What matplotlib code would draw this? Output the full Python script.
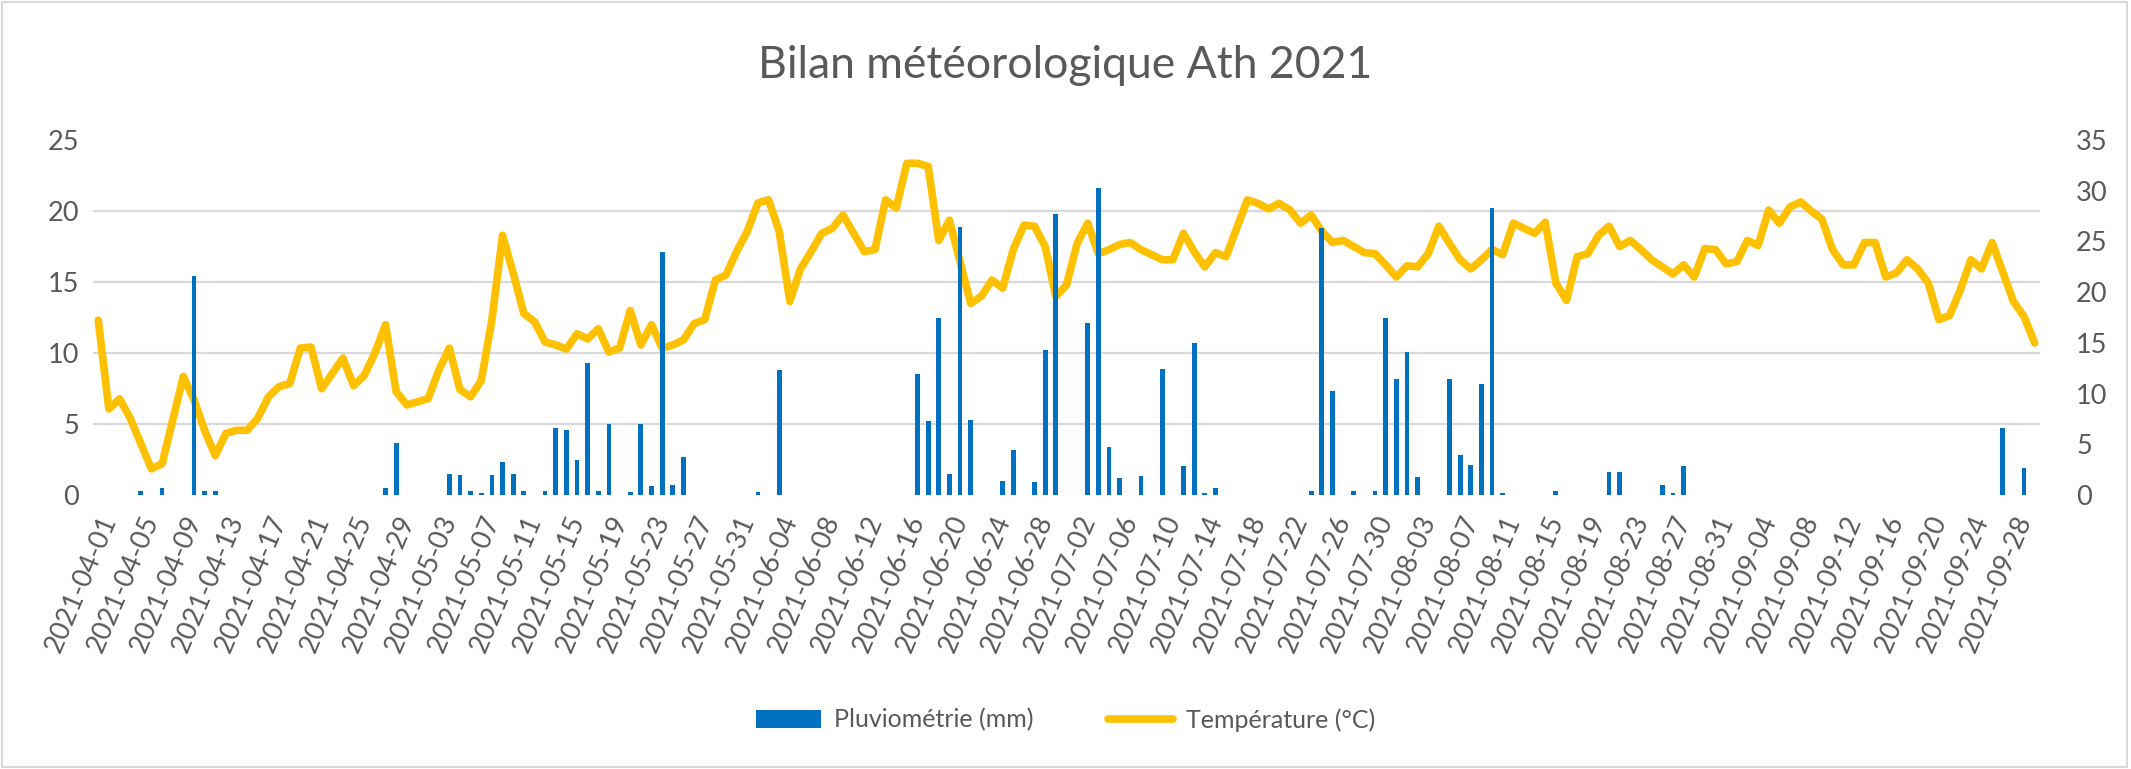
import pandas as pd
import numpy as np
import matplotlib
matplotlib.use('Agg')
import matplotlib.pyplot as plt
from matplotlib.patches import Rectangle

plt.rcParams['font.family'] = ['Lato', 'DejaVu Sans']

# temperature journaliere (°C), mois par mois
temp_avril = [17.25, 8.5, 9.5, 7.6, 5.1, 2.6, 3.1, 7.4, 11.7, 9.4, 6.4, 3.9, 6.1, 6.4, 6.4,
              7.6, 9.7, 10.7, 11.0, 14.5, 14.6, 10.5, 12.0, 13.5, 10.8, 11.8, 14.0, 16.8, 10.2, 8.9]
temp_mai = [9.2, 9.5, 12.3, 14.5, 10.4, 9.7, 11.3, 17.3, 25.6, 21.9, 17.9, 17.1, 15.1, 14.8, 14.4,
            15.9, 15.4, 16.4, 14.1, 14.5, 18.2, 14.8, 16.8, 14.5, 14.8, 15.3, 16.9, 17.3, 21.2, 21.7, 24.0]
temp_juin = [26.0, 28.8, 29.1, 26.0, 19.1, 22.3, 24.0, 25.8, 26.3, 27.6, 25.8, 24.0, 24.2, 29.1, 28.3,
             32.7, 32.7, 32.4, 25.1, 27.1, 23.0, 18.9, 19.6, 21.2, 20.4, 24.2, 26.6, 26.5, 24.5, 19.6]
temp_juillet = [20.7, 24.8, 26.8, 23.8, 24.2, 24.7, 24.9, 24.2, 23.7, 23.2, 23.2, 25.8, 24.0, 22.5, 23.9,
                23.5, 26.3, 29.1, 28.75, 28.2, 28.75, 28.1, 26.8, 27.6, 26.0, 24.9, 25.1, 24.5, 23.9, 23.8, 22.7]
temp_aout = [21.5, 22.6, 22.5, 23.8, 26.5, 24.8, 23.2, 22.3, 23.2, 24.2, 23.7, 26.8, 26.3, 25.8, 26.9,
             20.9, 19.2, 23.5, 23.8, 25.6, 26.5, 24.5, 25.1, 24.2, 23.2, 22.5, 21.8, 22.7, 21.5, 24.3, 24.2]
temp_sept = [22.8, 23.0, 25.1, 24.6, 28.1, 26.8, 28.4, 28.9, 28.0, 27.2, 24.2, 22.7, 22.7, 24.9, 24.9,
             21.5, 21.9, 23.2, 22.3, 20.9, 17.3, 17.7, 20.2, 23.2, 22.3, 24.9, 22.0, 19.1, 17.6, 15.0]

# pluviometrie journaliere (mm)
pluie_avril = [0, 0, 0, 0, 0.3, 0, 0.5, 0, 0, 15.4, 0.3, 0.3, 0, 0, 0,
               0, 0, 0, 0, 0, 0, 0, 0, 0, 0, 0, 0, 0.5, 3.65, 0]
pluie_mai = [0, 0, 0, 1.5, 1.4, 0.3, 0.15, 1.4, 2.35, 1.5, 0.3, 0, 0.3, 4.75, 4.6,
             2.45, 9.3, 0.3, 5.0, 0, 0.2, 5.0, 0.65, 17.1, 0.75, 2.7, 0, 0, 0, 0, 0]
pluie_juin = [0, 0.2, 0, 8.8, 0, 0, 0, 0, 0, 0, 0, 0, 0, 0, 0,
              0, 8.55, 5.2, 12.5, 1.5, 18.85, 5.3, 0, 0, 1.0, 3.2, 0, 0.9, 10.25, 19.8]
pluie_juillet = [0, 0, 12.1, 21.6, 3.4, 1.2, 0, 1.35, 0, 8.9, 0, 2.05, 10.7, 0.15, 0.5,
                 0, 0, 0, 0, 0, 0, 0, 0, 0.3, 18.8, 7.35, 0, 0.3, 0, 0.3, 12.5]
pluie_aout = [8.2, 10.1, 1.25, 0, 0, 8.2, 2.8, 2.1, 7.85, 20.2, 0.15, 0, 0, 0, 0,
              0.3, 0, 0, 0, 0, 1.6, 1.6, 0, 0, 0, 0.75, 0.15, 2.05, 0, 0, 0]
pluie_sept = [0, 0, 0, 0, 0, 0, 0, 0, 0, 0, 0, 0, 0, 0, 0,
              0, 0, 0, 0, 0, 0, 0, 0, 0, 0, 0, 4.7, 0, 1.95, 0]

dates = pd.date_range('2021-04-01', '2021-09-30', freq='D')
temperature = temp_avril + temp_mai + temp_juin + temp_juillet + temp_aout + temp_sept
pluie = pluie_avril + pluie_mai + pluie_juin + pluie_juillet + pluie_aout + pluie_sept
labels = [d.strftime('%Y-%m-%d') for d in dates]
x = np.arange(len(dates))

gris = '#595959'

fig = plt.figure(figsize=(21.31, 7.69), dpi=100)
ax = fig.add_axes([0.0436, 0.356, 0.9137, 0.462])
ax2 = ax.twinx()
# barres au-dessus de la courbe
ax.set_zorder(ax2.get_zorder() + 1)
ax.patch.set_visible(False)

ax.bar(x, pluie, width=0.45, color='#0070C0', label='Pluviométrie (mm)')
ax2.plot(x, temperature, color='#FFC000', lw=5.5, solid_joinstyle='round',
         solid_capstyle='round', label='Température (°C)')

ax.set_ylim(0, 25)
ax2.set_ylim(0, 35)
ax.set_xlim(-0.5, len(x) - 0.5)
ax.set_yticks(range(0, 26, 5))
ax2.set_yticks(range(0, 36, 5))
# quadrillage aligne sur l'axe de gauche, dessine sous la courbe
ax2.set_yticks(np.linspace(0, 35, 6), minor=True)
ax2.grid(which='minor', axis='y', color='#d9d9d9', lw=1.6)
ax2.tick_params(axis='y', which='minor', length=0)

ax.set_xticks(x[::4])
ax.set_xticklabels(labels[::4], rotation=67, ha='right', rotation_mode='anchor')
ax.tick_params(axis='x', length=0, pad=12, labelsize=19.5, colors=gris)
ax.tick_params(axis='y', length=0, pad=10, labelsize=19.5, colors=gris)
ax2.tick_params(axis='y', which='major', length=0, pad=26, labelsize=19.5, colors=gris)

for a in (ax, ax2):
    for s in a.spines.values():
        s.set_visible(False)

fig.text(0.5, 1 - 65 / 769, 'Bilan météorologique Ath 2021', ha='center', va='center',
         fontsize=32, color=gris)

h1, l1 = ax.get_legend_handles_labels()
h2, l2 = ax2.get_legend_handles_labels()
leg = fig.legend(h1 + h2, l1 + l2, loc='center', bbox_to_anchor=(0.5, 0.064), ncol=2,
                 frameon=False, fontsize=18, columnspacing=3, handlelength=2.6, handletextpad=0.5)
for t in leg.get_texts():
    t.set_color(gris)

fig.add_artist(Rectangle((0.001, 0.002), 0.997, 0.996, transform=fig.transFigure,
                         fill=False, edgecolor='#d9d9d9', lw=1.5))

fig.savefig('out.png', dpi=100)
